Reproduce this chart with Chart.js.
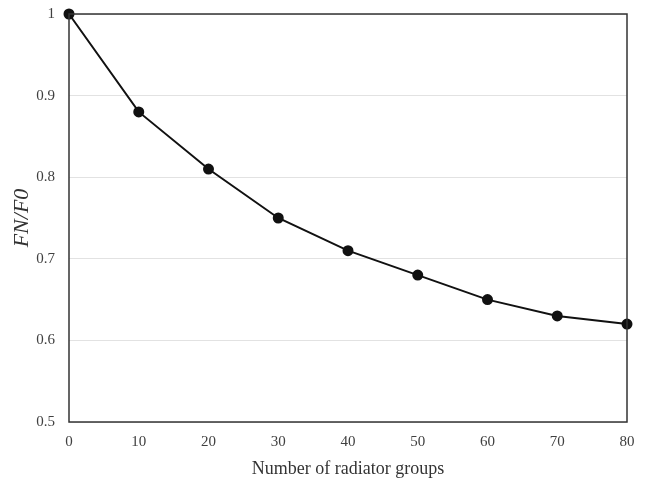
<!DOCTYPE html>
<html>
<head>
<meta charset="utf-8">
<script src="https://cdn.jsdelivr.net/npm/chart.js@4"></script>
<style>
  html, body { margin: 0; padding: 0; background: #fff; }
  #wrap { width: 650px; height: 484px; }
</style>
</head>
<body>
<div id="wrap"><canvas id="canvas" width="650" height="484"></canvas></div>
<script>
const groups = [0, 10, 20, 30, 40, 50, 60, 70, 80]
const ratio = [1.0, 0.88, 0.81, 0.75, 0.71, 0.68, 0.65, 0.63, 0.62]

const SERIF = "'Liberation Serif', 'Times New Roman', serif"

// frame round the plot area
const framePlugin = {
  id: 'frame',
  afterDatasetsDraw(chart) {
    const a = chart.chartArea
    const ctx = chart.ctx
    ctx.save()
    ctx.strokeStyle = '#333'
    ctx.lineWidth = 1.5
    ctx.strokeRect(a.left, a.top, a.right - a.left, a.bottom - a.top)
    ctx.restore()
  }
}

const points = groups.map((g, i) => ({ x: g, y: ratio[i] }))

new Chart(document.getElementById('canvas'), {
  type: 'line',
  data: {
    datasets: [{
      data: points,
      borderColor: '#111',
      backgroundColor: '#111',
      borderWidth: 2,
      pointRadius: 4.5,
      pointHoverRadius: 4.5,
      tension: 0,
      clip: false
    }]
  },
  options: {
    responsive: false,
    animation: false,
    layout: { padding: { top: 14, right: 23, left: 5, bottom: 0 } },
    plugins: { legend: { display: false }, tooltip: { enabled: false } },
    scales: {
      x: {
        type: 'linear',
        min: 0, max: 80,
        ticks: { stepSize: 10, color: '#404040', padding: 11, font: { family: SERIF, size: 15 } },
        grid: { display: false, drawTicks: false },
        border: { display: false },
        title: { display: true, text: 'Number of radiator groups', color: '#333', font: { family: SERIF, size: 18 }, padding: { top: 4, bottom: 4 } },
        afterFit: (s) => { s.height = 62 }
      },
      y: {
        min: 0.5, max: 1,
        ticks: { stepSize: 0.1, color: '#404040', padding: 14, font: { family: SERIF, size: 15 },
          callback: (v) => Number(v.toFixed(1)).toString() },
        grid: { color: '#e2e2e2', drawTicks: false },
        border: { display: false },
        title: { display: true, text: 'FN/F0', color: '#333', font: { family: SERIF, size: 22, style: 'italic' } },
        afterFit: (s) => { s.width = 64; s.paddingTop = 9; s.paddingBottom = 9 }
      }
    }
  },
  plugins: [framePlugin]
})
</script>
</body>
</html>
